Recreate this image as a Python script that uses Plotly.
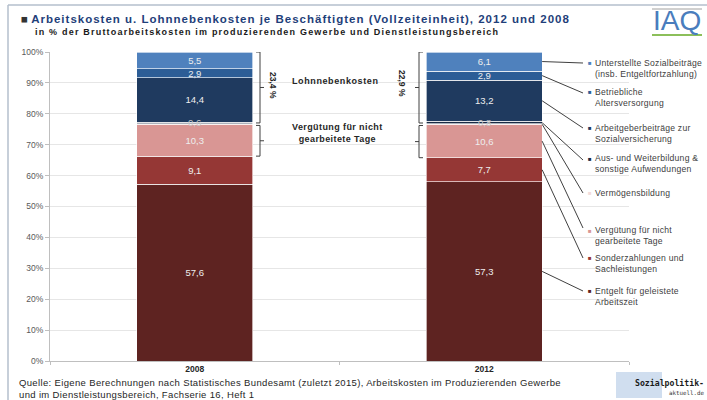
import plotly.graph_objects as go

# ---------------- data ----------------
years = ["2008", "2012"]
series_names = [
    "Entgelt für geleistete Arbeitszeit",
    "Sonderzahlungen und Sachleistungen",
    "Vergütung für nicht gearbeitete Tage",
    "Vermögensbildung",
    "Aus- und Weiterbildung & sonstige Aufwendungen",
    "Arbeitgeberbeiträge zur Sozialversicherung",
    "Betriebliche Altersversorgung",
    "Unterstellte Sozialbeiträge (insb. Entgeltfortzahlung)",
]
values_2008 = [57.6, 9.1, 10.3, 0.2, 0.6, 14.4, 2.9, 5.5]
values_2012 = [57.3, 7.7, 10.6, 0.2, 0.8, 13.2, 2.9, 6.1]
# label mode per series: "bar" = inside bar text, "note" = overlay label (tiny segment), "" = none
label_mode = ["bar", "bar", "bar", "", "note", "bar", "bar", "bar"]
lnk_totals = ["23,4 %", "22,9 %"]
legend_lines = [
    ["Entgelt für geleistete", "Arbeitszeit"],
    ["Sonderzahlungen und", "Sachleistungen"],
    ["Vergütung für nicht", "gearbeitete Tage"],
    ["Vermögensbildung"],
    ["Aus- und Weiterbildung &", "sonstige Aufwendungen"],
    ["Arbeitgeberbeiträge zur", "Sozialversicherung"],
    ["Betriebliche", "Altersversorgung"],
    ["Unterstellte Sozialbeiträge", "(insb. Entgeltfortzahlung)"],
]

# ---------------- styles ----------------
colors = ["#5e2321", "#953735", "#d99694", "#f2dcdb",
          "#1a2b45", "#1f3a5f", "#2c5d96", "#4f81bd"]
FONT = "Arial, Liberation Sans, sans-serif"
W, H = 707, 400
ML, MR, MT, MB = 50, 78, 52, 39
PW, PH = W - ML - MR, H - MT - MB
bargap = 0.6
bw = 1 - bargap


def pxp(x):  # pixel x -> paper
    return (x - ML) / PW


def pyp(y):  # pixel y -> paper
    return (H - MB - y) / PH


def pxd(x):  # pixel x -> x data (category index)
    return (x - ML) / PW * 2 - 0.5


def pyd(y):  # pixel y -> y data (percent)
    return (H - MB - y) / PH * 100


def fmt(v):
    return f"{v:.1f}".replace(".", ",")


def spaced(txt, ls):
    return f"<span style='letter-spacing:{ls}px'>{txt}</span>"


def note(x, y, text, size, color="#262626", xanchor="center", yanchor="middle", **kw):
    return dict(xref="paper", yref="paper", x=pxp(x), y=pyp(y), text=text,
                showarrow=False, xanchor=xanchor, yanchor=yanchor,
                font=dict(family=kw.pop("family", FONT), size=size, color=color), **kw)


fig = go.Figure()
for i, name in enumerate(series_names):
    vals = [values_2008[i], values_2012[i]]
    fig.add_trace(go.Bar(
        x=years, y=vals, name=name,
        marker=dict(color=colors[i], line=dict(color="rgba(255,255,255,0.8)", width=0.8)),
        text=[fmt(v) if label_mode[i] == "bar" else "" for v in vals],
        textposition="inside", insidetextanchor="middle", constraintext="none",
        textfont=dict(family=FONT, size=9.5, color="#eeeeee"),
        showlegend=False, hoverinfo="skip",
    ))

# normalized cumulative positions (100% stacked)
def norm_cum(vals):
    s = sum(vals)
    bottoms, tops = [], []
    c = 0
    for v in vals:
        bottoms.append(c / s * 100)
        c += v
        tops.append(c / s * 100)
    return bottoms, tops

b08, t08 = norm_cum(values_2008)
b12, t12 = norm_cum(values_2012)

shapes = []
annotations = []

# overlay labels for tiny segments
for i in range(len(series_names)):
    if label_mode[i] == "note":
        for j, (bb, tt, vals) in enumerate([(b08, t08, values_2008), (b12, t12, values_2012)]):
            annotations.append(dict(xref="x", yref="y", x=j, y=(bb[i] + tt[i]) / 2,
                                    text=fmt(vals[i]), showarrow=False,
                                    xanchor="center", yanchor="middle",
                                    font=dict(family=FONT, size=9.5, color="#c8c8c8")))

# leader lines & legend labels
label_center_px = [296, 263, 235.5, 193, 163.5, 133, 97, 68]
line_end_px = [291, 258, 228, 193, 160, 128, 93, 63]
for i in range(len(series_names)):
    ymid = (b12[i] + t12[i]) / 2
    shapes.append(dict(type="line", xref="x", yref="y",
                       x0=1 + bw / 2, y0=ymid, x1=pxd(583), y1=pyd(line_end_px[i]),
                       line=dict(color="#404040", width=1)))
    lines = legend_lines[i]
    first_y = label_center_px[i] - (len(lines) - 1) * 5
    annotations.append(note(590, first_y, "■", 6, color=colors[i]))
    annotations.append(note(593, label_center_px[i],
                            "<br>".join(spaced(l, 0.25) for l in lines), 8.6,
                            color="#404040", xanchor="left", align="left"))

# brackets
lnk_bottom = [t08[3], t12[3]]
verg_b = [b08[2], b12[2]]
verg_t = [t08[2], t12[2]]


def bracket(xv, y0, y1, direction):
    # direction +1: "}" (tip to right), -1: "{" (tip to left)
    ym = (y0 + y1) / 2
    xe = xv - direction * 4
    xt = xv + direction * 4
    p = (f"M {pxp(xe)},{y1} L {pxp(xv)},{y1} L {pxp(xv)},{y0} L {pxp(xe)},{y0} "
         f"M {pxp(xv)},{ym} L {pxp(xt)},{ym}")
    return dict(type="path", xref="paper", yref="y", path=p,
                line=dict(color="#404040", width=1))

shapes.append(bracket(260, lnk_bottom[0] + 0.3, 100, 1))
shapes.append(bracket(260, verg_b[0], verg_t[0] - 0.3, 1))
shapes.append(bracket(419, lnk_bottom[1] + 0.3, 100, -1))
shapes.append(bracket(419, verg_b[1], verg_t[1] - 0.3, -1))

annotations.append(note(273, 85, f"<b>{lnk_totals[0]}</b>", 8.5, textangle=90))
annotations.append(note(402, 83, f"<b>{lnk_totals[1]}</b>", 8.5, textangle=90))
annotations.append(note(335, 81, "<b>" + spaced("Lohnnebenkosten", 0.6) + "</b>", 9))
annotations.append(note(337, 133, "<b>" + spaced("Vergütung für nicht", 0.4) + "<br>" +
                        spaced("gearbeitete Tage", 0.4) + "</b>", 9))

# title & subtitle
annotations.append(note(19, 19, "<span style='color:#333333'>■</span> <b>" +
                        spaced("Arbeitskosten u. Lohnnebenkosten je Beschäftigten (Vollzeiteinheit), 2012 und 2008", 1.0) + "</b>",
                        11.5, color="#1f3f7a", xanchor="left"))
annotations.append(note(33, 32, "<b>" + spaced("in % der Bruttoarbeitskosten im produzierenden Gewerbe und Dienstleistungsbereich", 1.2) + "</b>",
                        9, color="#1a1a1a", xanchor="left"))
# source
annotations.append(note(17, 388, spaced("Quelle: Eigene Berechnungen nach Statistisches Bundesamt (zuletzt 2015), Arbeitskosten im Produzierenden Gewerbe", 0.35) +
                        "<br>" + spaced("und im Dienstleistungsbereich, Fachserie 16, Heft 1", 0.35),
                        9.5, xanchor="left", align="left"))
# IAQ logo
annotations.append(note(677, 21, "IAQ", 28, color="#4a7dbd"))
shapes.append(dict(type="line", xref="paper", yref="paper", x0=pxp(652), x1=pxp(702),
                   y0=pyp(35), y1=pyp(35), line=dict(color="#8cbf5a", width=2)))
shapes.append(dict(type="line", xref="paper", yref="paper", x0=pxp(652), x1=pxp(702),
                   y0=pyp(9), y1=pyp(9), line=dict(color="#a0a0a0", width=1)))
# sozialpolitik logo
shapes.append(dict(type="rect", xref="paper", yref="paper", x0=pxp(616), x1=pxp(662),
                   y0=pyp(398), y1=pyp(372), line=dict(width=0), fillcolor="rgba(120,160,210,0.35)"))
annotations.append(note(706, 383, "<b>Sozialpolitik-</b>", 8.2, color="#1a1a1a",
                        xanchor="right", family="DejaVu Sans Mono, monospace"))
annotations.append(note(706, 393, "aktuell.de", 5.8, color="#333333",
                        xanchor="right", family="DejaVu Sans Mono, monospace"))
# frame
shapes.append(dict(type="line", xref="paper", yref="paper", x0=pxp(8), x1=pxp(707),
                   y0=pyp(5), y1=pyp(5), line=dict(color="#b4bfcc", width=1.5)))
shapes.append(dict(type="line", xref="paper", yref="paper", x0=pxp(8), x1=pxp(8),
                   y0=pyp(5), y1=pyp(400), line=dict(color="#b4bfcc", width=1.5)))

fig.update_layout(
    width=W, height=H, barmode="stack", barnorm="percent", bargap=bargap,
    margin=dict(l=ML, r=MR, t=MT, b=MB, autoexpand=False),
    paper_bgcolor="white", plot_bgcolor="white",
    font=dict(family=FONT),
    shapes=shapes, annotations=annotations,
    xaxis=dict(type="category", showline=True, linecolor="#bfbfbf", linewidth=1,
               ticks="outside", tickson="boundaries", ticklen=3, tickcolor="#bfbfbf",
               tickfont=dict(family=FONT, size=8.5, color="#262626", weight="bold"),
               showgrid=False, range=[-0.5, 1.5]),
    yaxis=dict(range=[0, 100], dtick=10, ticksuffix="%", showline=True,
               linecolor="#bfbfbf", linewidth=1, ticks="outside", ticklen=4,
               tickcolor="#bfbfbf", gridcolor="#e6e6e6", gridwidth=1,
               tickfont=dict(family=FONT, size=8.5, color="#595959"), zeroline=False),
)

fig.write_html("out.html", config={"displayModeBar": False},
               post_script="document.body.style.margin='0';document.body.style.overflow='hidden';")
